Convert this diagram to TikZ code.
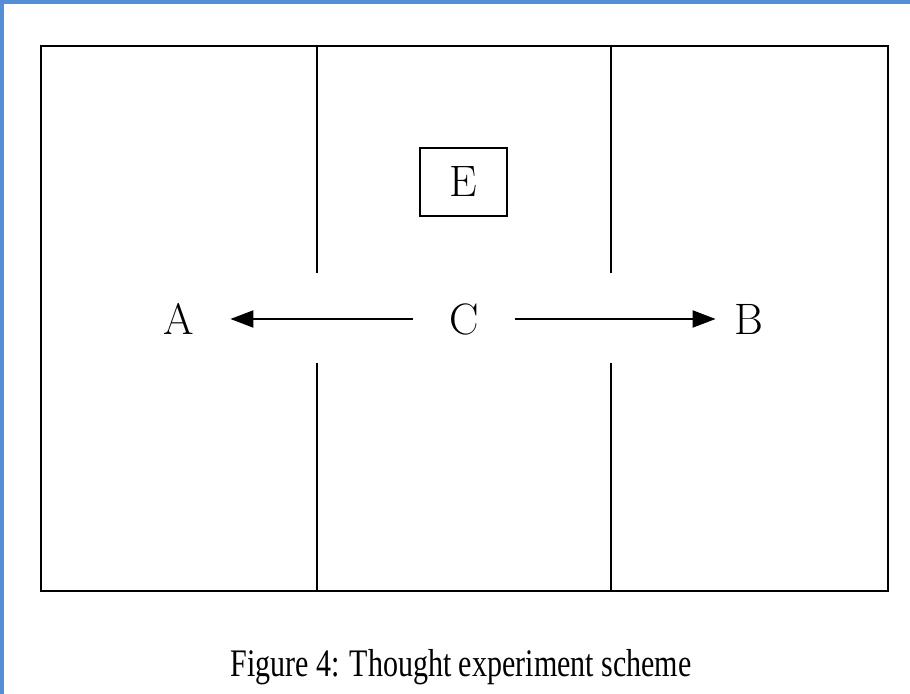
\documentclass[tikz,border=0pt]{standalone}
\usepackage{fontspec}
\newfontfamily\capfont{Liberation Serif}
\usetikzlibrary{arrows.meta,positioning}

\definecolor{frameblue}{RGB}{85,142,213}

\tikzset{
  wall/.style={line width=0.75pt, black},
  lbl/.style={font=\fontsize{22}{22}\selectfont, inner sep=0pt, minimum height=17pt},
  flow/.style={line width=1pt, -{Triangle[length=11.5pt,width=8.5pt]}}
}

\begin{document}
\begin{tikzpicture}[x=0.5pt, y=-0.5pt]
% Page and left/top band
\useasboundingbox (0,0) rectangle (910,694);
\fill[white] (0,0) rectangle (910,694);
\fill[frameblue] (0,0) rectangle (910,4);
\fill[frameblue] (0,0) rectangle (4,694);

% Outer box and the two walls with openings
\draw[wall] (41,46) rectangle (888,591);
\draw[wall] (317,46) -- (317,273);
\draw[wall] (317,363) -- (317,591);
\draw[wall] (611,46) -- (611,273);
\draw[wall] (611,363) -- (611,591);

% Labels
\node[lbl, minimum width=51pt] (c) at (464,319) {C};
\node[lbl, minimum width=51pt] (a) at (179,319) {A};
\node[lbl, minimum width=33pt] (b) at (749,319) {B};
\node[draw, line width=0.75pt, lbl, minimum width=43.5pt, minimum height=34pt] (e) at (463.5,182) {E};

% Arrows out of C
\draw[flow] (c) -- (a);
\draw[flow] (c) -- (b);

% Caption
\node[font=\capfont\fontsize{19.5}{19.5}\selectfont] (cap) at (461,667) {\scalebox{0.77}[1]{Figure 4: Thought experiment scheme}};
\end{tikzpicture}
\end{document}
